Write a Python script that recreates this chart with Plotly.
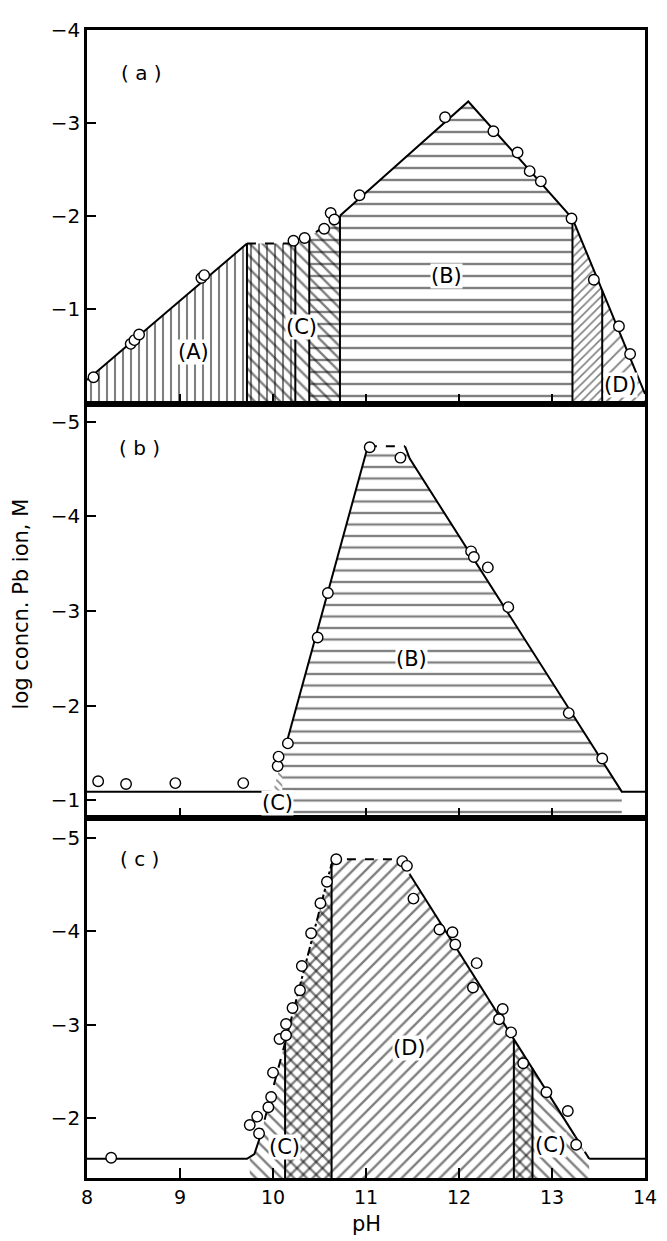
import numpy as np
import plotly.graph_objects as go
from plotly.subplots import make_subplots

# ---------------- panel (a) ----------------
a_pts_ph = [8.07, 8.47, 8.51, 8.56, 9.23, 9.26, 10.22, 10.34, 10.55, 10.62, 10.66,
            10.93, 11.85, 12.37, 12.63, 12.76, 12.88, 13.21, 13.45, 13.72, 13.84]
a_pts_log = [-0.26, -0.62, -0.66, -0.72, -1.33, -1.36, -1.73, -1.76, -1.86, -2.03, -1.96,
             -2.22, -3.06, -2.91, -2.68, -2.48, -2.37, -1.97, -1.31, -0.81, -0.51]
a_edge_ph = [8.0, 9.72, 10.24, 10.40, 10.72, 12.10, 13.22, 14.0]
a_edge_log = [-0.23, -1.70, -1.70, -1.78, -2.00, -3.23, -1.97, -0.08]
a_span_A = [8.0, 10.24]
a_span_C = [9.72, 10.72]
a_span_B = [10.39, 13.22]
a_span_E = [13.22, 13.54]
a_span_D = [13.54, 14.0]
a_dividers = [9.72, 10.24, 10.39, 10.72, 13.22, 13.54]

# ---------------- panel (b) ----------------
b_pts_ph = [8.12, 8.42, 8.95, 9.68, 10.05, 10.06, 10.16, 10.48, 10.59,
            11.04, 11.37, 12.13, 12.16, 12.31, 12.53, 13.18, 13.54]
b_pts_log = [-1.20, -1.17, -1.18, -1.18, -1.36, -1.46, -1.60, -2.72, -3.19,
             -4.73, -4.62, -3.63, -3.57, -3.46, -3.04, -1.92, -1.44]
b_edge_ph = [8.0, 10.0, 10.15, 11.02, 11.42, 11.47, 13.75, 14.0]
b_edge_log = [-1.09, -1.09, -1.62, -4.74, -4.74, -4.61, -1.09, -1.09]
b_span_C = [10.0, 10.1]
b_span_B = [10.1, 13.75]

# ---------------- panel (c) ----------------
c_pts_ph = [8.26, 9.75, 9.83, 9.85, 9.95, 9.98, 10.0, 10.07, 10.14, 10.14, 10.21,
            10.29, 10.31, 10.41, 10.51, 10.58, 10.68, 11.39, 11.44, 11.51, 11.79,
            11.93, 11.96, 12.19, 12.15, 12.47, 12.43, 12.56, 12.69, 12.94, 13.17, 13.26]
c_pts_log = [-1.58, -1.93, -2.02, -1.84, -2.12, -2.23, -2.49, -2.85, -2.89, -3.01, -3.18,
             -3.37, -3.63, -3.98, -4.30, -4.53, -4.77, -4.75, -4.70, -4.35, -4.02,
             -3.99, -3.86, -3.66, -3.40, -3.17, -3.06, -2.92, -2.59, -2.28, -2.08, -1.72]
c_edge_ph = [8.0, 9.72, 9.80, 9.86, 10.13, 10.63, 10.66, 11.40, 11.47, 12.59, 12.79, 13.40, 14.0]
c_edge_log = [-1.57, -1.57, -1.62, -1.80, -2.81, -4.72, -4.77, -4.77, -4.61, -2.85, -2.54, -1.57, -1.57]
c_span_C1 = [9.75, 10.63]
c_span_D = [10.13, 12.79]
c_span_C2 = [12.59, 13.40]
c_dividers = [10.13, 10.63, 12.59, 12.79]

# axis ranges (bottom, top) and ticks
a_range = [0.025, -4.0]
b_range = [-0.81, -5.19]
c_range = [-1.364, -5.21]
a_ticks = [-4, -3, -2, -1]
b_ticks = [-5, -4, -3, -2, -1]
c_ticks = [-5, -4, -3, -2]
ph_ticks = [8, 9, 10, 11, 12, 13, 14]

FONT = "DejaVu Sans"


def edge_part(ex, ey, x0, x1):
    xs = [x0]
    ys = [float(np.interp(x0, ex, ey))]
    for x, y in zip(ex, ey):
        if x0 < x < x1:
            xs.append(x)
            ys.append(y)
    xs.append(x1)
    ys.append(float(np.interp(x1, ex, ey)))
    return xs, ys


def region(ex, ey, span, base):
    xs, ys = edge_part(ex, ey, span[0], span[1])
    return [xs[0]] + xs + [xs[-1], xs[0]], [base] + ys + [base, base]


fig = make_subplots(rows=3, cols=1, shared_xaxes=True, vertical_spacing=0,
                    row_heights=[377, 418, 363])


def add_region(row, ex, ey, span, base, shape, size, solidity=0.26):
    xs, ys = region(ex, ey, span, base)
    fig.add_trace(go.Scatter(
        x=xs, y=ys, mode="lines", line=dict(width=0, color="rgba(0,0,0,0)"),
        fill="toself", fillcolor="rgba(0,0,0,0)",
        fillpattern=dict(shape=shape, size=size, solidity=solidity,
                         fgcolor="black", bgcolor="rgba(0,0,0,0)"),
        hoverinfo="skip", showlegend=False), row=row, col=1)


def add_edge(row, ex, ey, x0, x1, dash="solid"):
    xs, ys = edge_part(ex, ey, x0, x1)
    fig.add_trace(go.Scatter(x=xs, y=ys, mode="lines",
                             line=dict(color="black", width=2, dash=dash),
                             hoverinfo="skip", showlegend=False), row=row, col=1)


def add_dividers(row, ex, ey, xs, base):
    for x in xs:
        fig.add_trace(go.Scatter(x=[x, x], y=[base, float(np.interp(x, ex, ey))],
                                 mode="lines", line=dict(color="black", width=2),
                                 hoverinfo="skip", showlegend=False), row=row, col=1)


def add_points(row, px, py):
    fig.add_trace(go.Scatter(x=px, y=py, mode="markers",
                             marker=dict(symbol="circle", size=10.5, color="white",
                                         line=dict(color="black", width=1.4)),
                             showlegend=False), row=row, col=1)


# panel (a)
add_region(1, a_edge_ph, a_edge_log, a_span_A, a_range[0], "|", 8)
add_region(1, a_edge_ph, a_edge_log, a_span_C, a_range[0], "\\", 9)
add_region(1, a_edge_ph, a_edge_log, a_span_B, a_range[0], "-", 12, 0.2)
add_region(1, a_edge_ph, a_edge_log, a_span_E, a_range[0], "/", 6)
add_region(1, a_edge_ph, a_edge_log, a_span_D, a_range[0], "/", 9, 0.2)
add_dividers(1, a_edge_ph, a_edge_log, a_dividers, a_range[0])
add_edge(1, a_edge_ph, a_edge_log, 8.0, 9.72)
add_edge(1, a_edge_ph, a_edge_log, 9.72, 10.72, "dash")
add_edge(1, a_edge_ph, a_edge_log, 10.72, 14.0)
add_points(1, a_pts_ph, a_pts_log)

# panel (b)
add_region(2, b_edge_ph, b_edge_log, b_span_C, b_range[0], "\\", 6)
add_region(2, b_edge_ph, b_edge_log, b_span_B, b_range[0], "-", 11.5, 0.2)
add_edge(2, b_edge_ph, b_edge_log, 8.0, 9.98)
add_edge(2, b_edge_ph, b_edge_log, 10.15, 11.02)
add_edge(2, b_edge_ph, b_edge_log, 11.02, 11.42, "dash")
add_edge(2, b_edge_ph, b_edge_log, 11.42, 14.0)
add_points(2, b_pts_ph, b_pts_log)

# panel (c)
add_region(3, c_edge_ph, c_edge_log, c_span_C1, c_range[0], "\\", 9)
add_region(3, c_edge_ph, c_edge_log, c_span_D, c_range[0], "/", 9)
add_region(3, c_edge_ph, c_edge_log, c_span_C2, c_range[0], "\\", 9)
add_dividers(3, c_edge_ph, c_edge_log, c_dividers, c_range[0])
add_edge(3, c_edge_ph, c_edge_log, 8.0, 9.86)
add_edge(3, c_edge_ph, c_edge_log, 9.86, 10.13, "dash")
add_edge(3, c_edge_ph, c_edge_log, 10.13, 10.63, "dashdot")
add_edge(3, c_edge_ph, c_edge_log, 10.63, 11.47, "dash")
add_edge(3, c_edge_ph, c_edge_log, 11.47, 13.25)
add_edge(3, c_edge_ph, c_edge_log, 13.25, 13.40, "dash")
add_edge(3, c_edge_ph, c_edge_log, 13.40, 14.0)
add_points(3, c_pts_ph, c_pts_log)

# axes
for i, (rng, tv) in enumerate([(a_range, a_ticks), (b_range, b_ticks), (c_range, c_ticks)], 1):
    fig.update_yaxes(row=i, col=1, range=rng, tickvals=tv, ticks="inside", ticklen=9,
                     tickwidth=2, tickcolor="black", showline=True, linewidth=2.5,
                     linecolor="black", mirror=True, showgrid=False, zeroline=False,
                     tickfont=dict(family=FONT, size=20, color="black"))
    fig.update_xaxes(row=i, col=1, range=[8, 14], tickvals=ph_ticks, ticks="inside",
                     ticklen=10, tickwidth=2, tickcolor="black", showline=True,
                     linewidth=2.5, linecolor="black", mirror=True, showgrid=False,
                     zeroline=False, showticklabels=(i == 3),
                     tickfont=dict(family=FONT, size=19, color="black"))

labels = [
    ("x", "y", 8.59, -3.54, "( a )"), ("x", "y", 9.14, -0.53, "(A)"),
    ("x", "y", 10.31, -0.80, "(C)"), ("x", "y", 11.87, -1.35, "(B)"),
    ("x", "y", 13.74, -0.18, "(D)"),
    ("x2", "y2", 8.56, -4.72, "( b )"), ("x2", "y2", 11.49, -2.49, "(B)"),
    ("x2", "y2", 10.05, -0.97, "(C)"),
    ("x3", "y3", 8.56, -4.77, "( c )"), ("x3", "y3", 11.47, -2.75, "(D)"),
    ("x3", "y3", 10.12, -1.69, "(C)"), ("x3", "y3", 12.98, -1.72, "(C)"),
]
for xr, yr, x, y, t in labels:
    fig.add_annotation(xref=xr, yref=yr, x=x, y=y, text=t, showarrow=False,
                       bgcolor="white" if len(t) == 3 else None, borderpad=0,
                       font=dict(family=FONT, size=21 if len(t) == 3 else 20, color="black"))

fig.add_annotation(xref="paper", yref="paper", x=-0.1175, y=0.5, text="log concn. Pb ion, M",
                   textangle=-90, showarrow=False, xanchor="center", yanchor="middle",
                   font=dict(family=FONT, size=21, color="black"))
fig.add_annotation(xref="paper", yref="paper", x=0.5, y=-0.04, text="pH",
                   showarrow=False, xanchor="center", yanchor="middle",
                   font=dict(family=FONT, size=21, color="black"))

# page body adds an 8 px offset, so the figure is drawn 8 px smaller
fig.update_layout(width=659, height=1233, margin=dict(l=79, r=10, t=12, b=63),
                  plot_bgcolor="white", paper_bgcolor="white", showlegend=False)

fig.write_html("out.html")
